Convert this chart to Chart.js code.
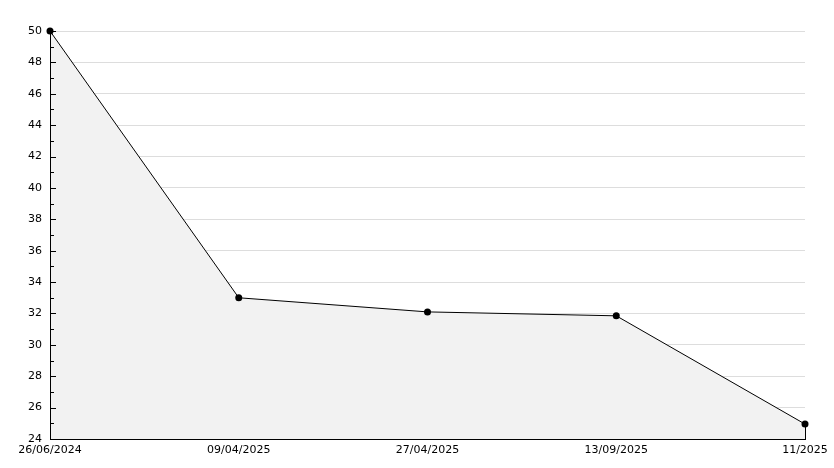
<!DOCTYPE html>
<html>
<head>
<meta charset="utf-8">
<script src="https://cdn.jsdelivr.net/npm/chart.js@4.4.1/dist/chart.umd.min.js"></script>
<style>
  body { margin: 0; background: #fff; }
</style>
</head>
<body>
<canvas id="chart-1" width="834" height="468"></canvas>
<script>
// dates on the bottom axis, one point per date
const dateLabels = ['26/06/2024', '09/04/2025', '27/04/2025', '13/09/2025', '11/2025'];
const values = [50, 33, 32.1, 31.85, 24.95];
const yMin = 24;
const yMax = 50;

// y axis line, inward tick marks + closing edge of the filled area
const axisDetails = {
  id: 'axisDetails',
  afterDatasetsDraw(chart) {
    const { ctx, chartArea } = chart;
    const y = chart.scales.y;
    const x = chart.scales.x;
    ctx.save();
    ctx.strokeStyle = '#000';
    ctx.lineWidth = 1;
    const ax = Math.round(chartArea.left) + 0.5;
    ctx.beginPath();
    ctx.moveTo(ax, chartArea.top);
    ctx.lineTo(ax, chartArea.bottom);
    ctx.stroke();
    y.ticks.forEach(t => {
      const py = Math.round(y.getPixelForValue(t.value)) + 0.5;
      const len = t.value % 2 === 0 ? 6 : 4;
      ctx.beginPath();
      ctx.moveTo(chartArea.left, py);
      ctx.lineTo(chartArea.left + len, py);
      ctx.stroke();
    });
    // right edge of the area, from last point down to the axis
    const last = values.length - 1;
    const px = Math.round(x.getPixelForValue(last)) + 0.5;
    ctx.beginPath();
    ctx.moveTo(px, y.getPixelForValue(values[last]));
    ctx.lineTo(px, y.getPixelForValue(yMin));
    ctx.stroke();
    ctx.restore();
  }
};

new Chart(document.getElementById('chart-1'), {
  type: 'line',
  data: {
    labels: dateLabels,
    datasets: [{
      data: values,
      borderColor: '#000',
      borderWidth: 1,
      backgroundColor: '#f2f2f2',
      fill: 'start',
      clip: false,
      tension: 0,
      pointStyle: 'circle',
      pointRadius: 3.5,
      pointBackgroundColor: '#000',
      pointBorderColor: '#000',
      pointBorderWidth: 0
    }]
  },
  options: {
    responsive: false,
    animation: false,
    devicePixelRatio: 1,
    layout: {
      padding: { top: 31, right: 29, left: 0, bottom: 0 }
    },
    plugins: {
      legend: { display: false },
      tooltip: { enabled: false }
    },
    scales: {
      x: {
        type: 'category',
        offset: false,
        afterFit: (scale) => { scale.height = 29; },
        grid: { display: false, drawTicks: false },
        border: { color: '#000', width: 1 },
        ticks: {
          color: '#000',
          padding: 5,
          maxRotation: 0,
          autoSkip: false,
          font: { family: 'DejaVu Sans', size: 11 }
        }
      },
      y: {
        min: yMin,
        max: yMax,
        afterFit: (scale) => { scale.width = 50; },
        grid: {
          drawTicks: false,
          color: (c) => (c.tick && c.tick.value % 2 === 0 ? '#dddddd' : 'rgba(0,0,0,0)'),
          lineWidth: 1
        },
        border: { color: '#000', width: 1 },
        ticks: {
          stepSize: 1,
          color: '#000',
          padding: 8,
          autoSkip: false,
          font: { family: 'DejaVu Sans', size: 11 },
          callback: function (value) {
            return value % 2 === 0 ? value : '';
          }
        }
      }
    }
  },
  plugins: [axisDetails]
});
</script>
</body>
</html>
